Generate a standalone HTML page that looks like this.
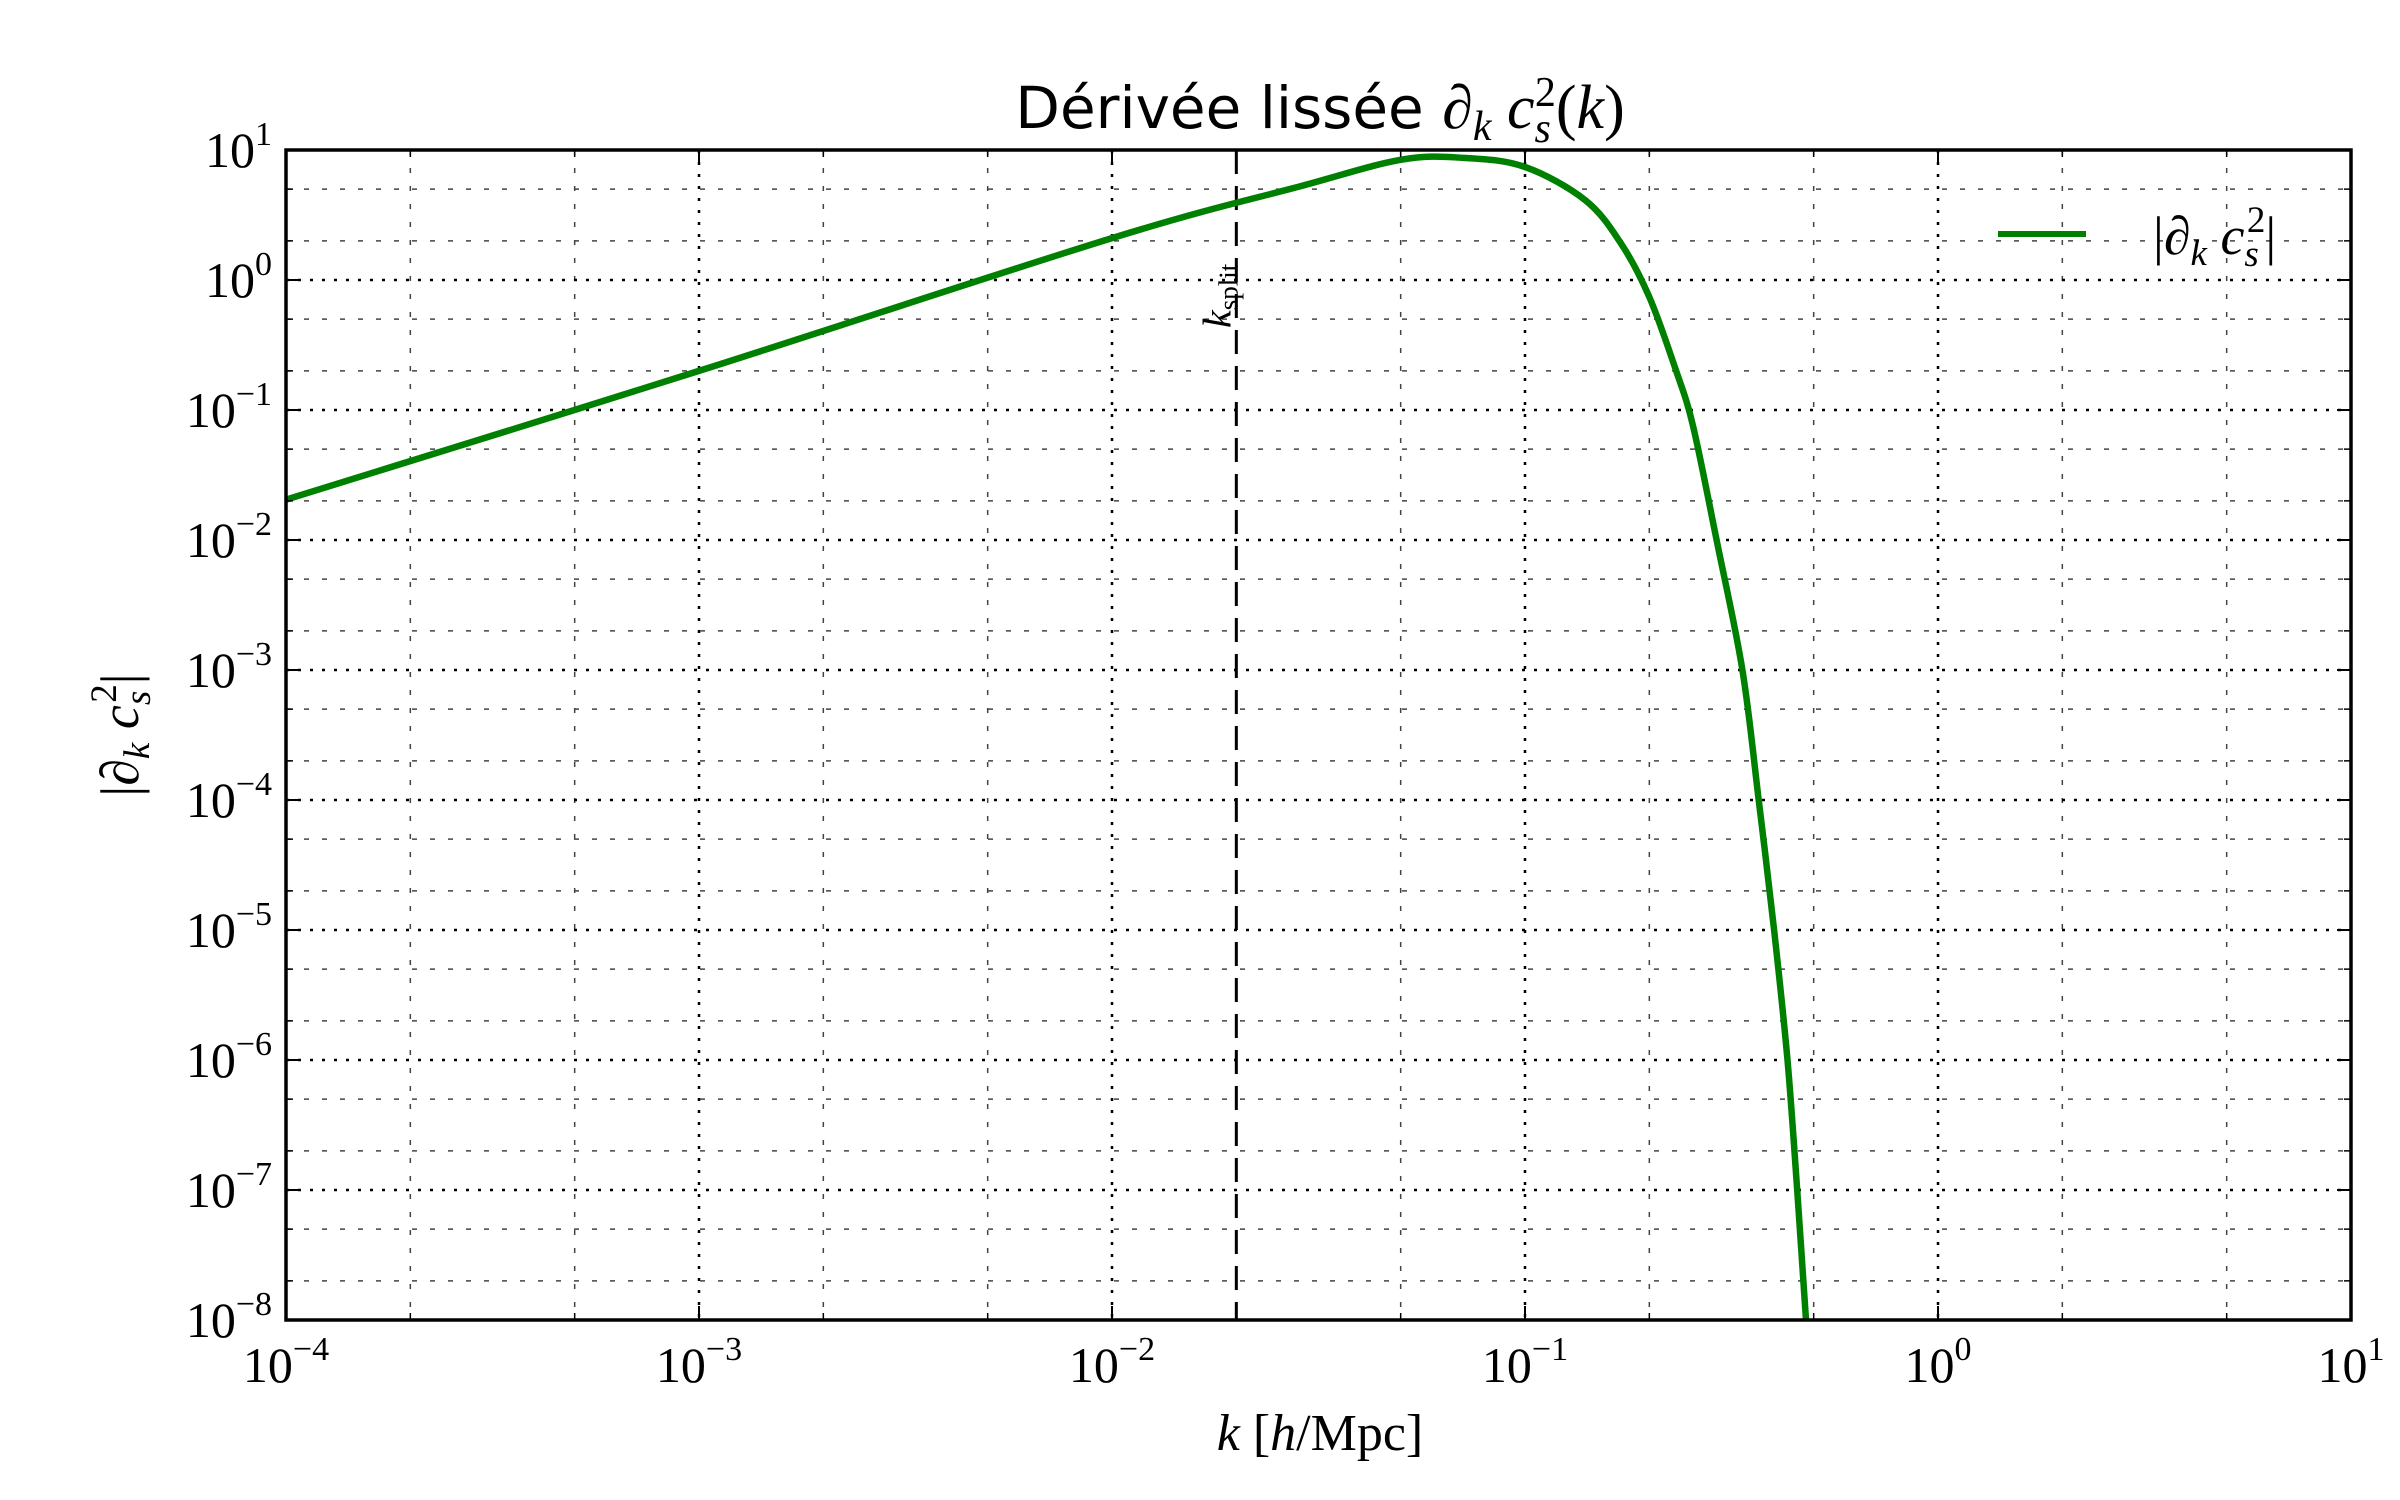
<!DOCTYPE html>
<html><head><meta charset="utf-8"><style>
html,body{margin:0;padding:0;background:#fff;}
svg{display:block;}
</style></head><body>
<svg id="chart" width="2400" height="1500" viewBox="0 0 2400 1500" xmlns="http://www.w3.org/2000/svg">
<rect width="2400" height="1500" fill="#fff"/>
<g id="grid"></g>
<g id="series"></g>
<g id="axes"></g>
<text x="1320" y="128" text-anchor="middle" font-family="DejaVu Sans, sans-serif" font-size="58">Dérivée lissée <tspan font-family="Liberation Serif, serif" font-style="italic" font-size="62">∂</tspan><tspan font-family="Liberation Serif, serif" font-style="italic" font-size="42" dy="12">k</tspan><tspan font-family="Liberation Serif, serif" font-style="italic" font-size="62" dy="-12"> c</tspan><tspan font-family="Liberation Serif, serif" font-style="italic" font-size="42" dy="14">s</tspan><tspan font-family="Liberation Serif, serif" font-size="42" dx="-16" dy="-36">2</tspan><tspan font-family="Liberation Serif, serif" font-size="62" dy="22">(</tspan><tspan font-family="Liberation Serif, serif" font-style="italic" font-size="62">k</tspan><tspan font-family="Liberation Serif, serif" font-size="62">)</tspan></text>
<text x="1320" y="1450" text-anchor="middle" font-family="Liberation Serif, serif" font-size="52"><tspan font-style="italic">k</tspan> [<tspan font-style="italic">h</tspan>/Mpc]</text>
<text transform="translate(138,735) rotate(-90)" text-anchor="middle" font-family="Liberation Serif, serif" font-size="54">|<tspan font-style="italic">∂</tspan><tspan font-style="italic" font-size="37" dy="11">k</tspan><tspan font-style="italic" dy="-11"> c</tspan><tspan font-style="italic" font-size="37" dy="12">s</tspan><tspan font-size="37" dx="-12" dy="-34">2</tspan><tspan dy="22">|</tspan></text>
<g>
<line x1="1998" y1="234" x2="2086" y2="234" stroke="#008000" stroke-width="6"/>
<text x="2153" y="254" font-family="Liberation Serif, serif" font-size="54">|<tspan font-style="italic">∂</tspan><tspan font-style="italic" font-size="37" dy="11">k</tspan><tspan font-style="italic" dy="-11"> c</tspan><tspan font-style="italic" font-size="37" dy="12">s</tspan><tspan font-size="37" dx="-12" dy="-34">2</tspan><tspan dy="22">|</tspan></text>
</g>
</svg>
<script>
const kValues = [1e-4, 1e-3, 1e-2, 0.0285, 0.05, 0.0713, 0.1, 0.14, 0.171, 0.2, 0.231, 0.255, 0.291, 0.336, 0.368, 0.401, 0.432, 0.456, 0.479];
const derivValues = [0.0204, 0.2, 2.1, 5.25, 8.4, 8.7, 7.4, 4.1, 1.9, 0.74, 0.21, 0.076, 0.01, 1e-3, 1e-4, 1e-5, 1e-6, 1e-7, 1e-8];
const xTickExps = [-4, -3, -2, -1, 0, 1];
const yTickExps = [-8, -7, -6, -5, -4, -3, -2, -1, 0, 1];
const kSplit = 0.02;

const L = 286, R = 2351, T = 150, B = 1320;
const xMinE = -4, xMaxE = 1, yMinE = -8, yMaxE = 1;
const NS = 'http://www.w3.org/2000/svg';
function xs(k){ return L + (Math.log10(k) - xMinE) / (xMaxE - xMinE) * (R - L); }
function ys(v){ return B - (Math.log10(v) - yMinE) / (yMaxE - yMinE) * (B - T); }
function mk(tag, attrs, parent){ const e = document.createElementNS(NS, tag); for (const a in attrs) e.setAttribute(a, attrs[a]); parent.appendChild(e); return e; }

const grid = document.getElementById('grid');
const axes = document.getElementById('axes');
const series = document.getElementById('series');

for (let e = xMinE; e <= xMaxE; e++) {
  const x = xs(Math.pow(10, e));
  if (e > xMinE && e < xMaxE) {
    const g = mk('line', {x1:x, y1:T, x2:x, y2:B, stroke:'#000', 'stroke-width':2.5, 'stroke-dasharray':'3 9'}, grid);
    
    
  }
  mk('line', {x1:x, y1:B, x2:x, y2:B-14, stroke:'#000', 'stroke-width':2}, axes);
  mk('line', {x1:x, y1:T, x2:x, y2:T+14, stroke:'#000', 'stroke-width':2}, axes);
  if (e < xMaxE) {
    [2,5].forEach(m => {
      const xm = xs(m * Math.pow(10, e));
      const g = mk('line', {x1:xm, y1:T, x2:xm, y2:B, stroke:'#444', 'stroke-width':1.5, 'stroke-dasharray':'5 13'}, grid);
      
      
      mk('line', {x1:xm, y1:B, x2:xm, y2:B-7, stroke:'#000', 'stroke-width':1.5}, axes);
      mk('line', {x1:xm, y1:T, x2:xm, y2:T+7, stroke:'#000', 'stroke-width':1.5}, axes);
    });
  }
}
xTickExps.forEach(e => {
  const x = xs(Math.pow(10, e));
  const t = mk('text', {x:x, y:B+62, 'text-anchor':'middle', 'font-family':'Liberation Serif, serif', 'font-size':50}, axes);
  
  
  t.innerHTML = '10<tspan font-size="34" dy="-22">' + (e < 0 ? '\u2212' + (-e) : e) + '</tspan>';
});

for (let e = yMinE; e <= yMaxE; e++) {
  const y = ys(Math.pow(10, e));
  if (e > yMinE && e < yMaxE) {
    const g = mk('line', {x1:L, y1:y, x2:R, y2:y, stroke:'#000', 'stroke-width':2.5, 'stroke-dasharray':'3 9'}, grid);
    
    
  }
  mk('line', {x1:L, y1:y, x2:L+14, y2:y, stroke:'#000', 'stroke-width':2}, axes);
  mk('line', {x1:R, y1:y, x2:R-14, y2:y, stroke:'#000', 'stroke-width':2}, axes);
  if (e < yMaxE) {
    [2,5].forEach(m => {
      const ym = ys(m * Math.pow(10, e));
      const g = mk('line', {x1:L, y1:ym, x2:R, y2:ym, stroke:'#444', 'stroke-width':1.5, 'stroke-dasharray':'5 13'}, grid);
      
      
      mk('line', {x1:L, y1:ym, x2:L+7, y2:ym, stroke:'#000', 'stroke-width':1.5}, axes);
      mk('line', {x1:R, y1:ym, x2:R-7, y2:ym, stroke:'#000', 'stroke-width':1.5}, axes);
    });
  }
}
yTickExps.forEach(e => {
  const y = ys(Math.pow(10, e));
  const t = mk('text', {x:L-14, y:y+17, 'text-anchor':'end', 'font-family':'Liberation Serif, serif', 'font-size':50}, axes);
  
  
  t.innerHTML = '10<tspan font-size="34" dy="-22">' + (e < 0 ? '\u2212' + (-e) : e) + '</tspan>';
});

const xsplit = xs(kSplit);
const ks = mk('line', {x1:xsplit, y1:T, x2:xsplit, y2:B, stroke:'#000', 'stroke-width':3, 'stroke-dasharray':'24 12'}, series);


const kl = mk('text', {transform:'translate(' + (xsplit - 6) + ',328) rotate(-90)', 'font-family':'Liberation Serif, serif', 'font-size':40}, series);


kl.innerHTML = '<tspan font-style="italic">k</tspan><tspan font-size="27" dy="7">split</tspan>';

const P = kValues.map((k, i) => [xs(k), ys(derivValues[i])]);
let d = 'M ' + P[0][0].toFixed(1) + ' ' + P[0][1].toFixed(1);
for (let i = 0; i < P.length - 1; i++) {
  const p0 = P[Math.max(i-1,0)], p1 = P[i], p2 = P[i+1], p3 = P[Math.min(i+2,P.length-1)];
  const c1 = [p1[0] + (p2[0]-p0[0])/6, p1[1] + (p2[1]-p0[1])/6];
  const c2 = [p2[0] - (p3[0]-p1[0])/6, p2[1] - (p3[1]-p1[1])/6];
  d += ' C ' + c1[0].toFixed(1) + ' ' + c1[1].toFixed(1) + ' ' + c2[0].toFixed(1) + ' ' + c2[1].toFixed(1) + ' ' + p2[0].toFixed(1) + ' ' + p2[1].toFixed(1);
}
const clip = mk('clipPath', {id:'plotclip'}, document.getElementById('chart'));
mk('rect', {x:L, y:T, width:R-L, height:B-T}, clip);
const curve = mk('path', {d:d, fill:'none', stroke:'#008000', 'stroke-width':6.5, 'stroke-linejoin':'round', 'clip-path':'url(#plotclip)'}, series);



const fr = mk('rect', {x:L, y:T, width:R-L, height:B-T, fill:'none', stroke:'#000', 'stroke-width':3.5}, axes);


</script>
</body></html>
